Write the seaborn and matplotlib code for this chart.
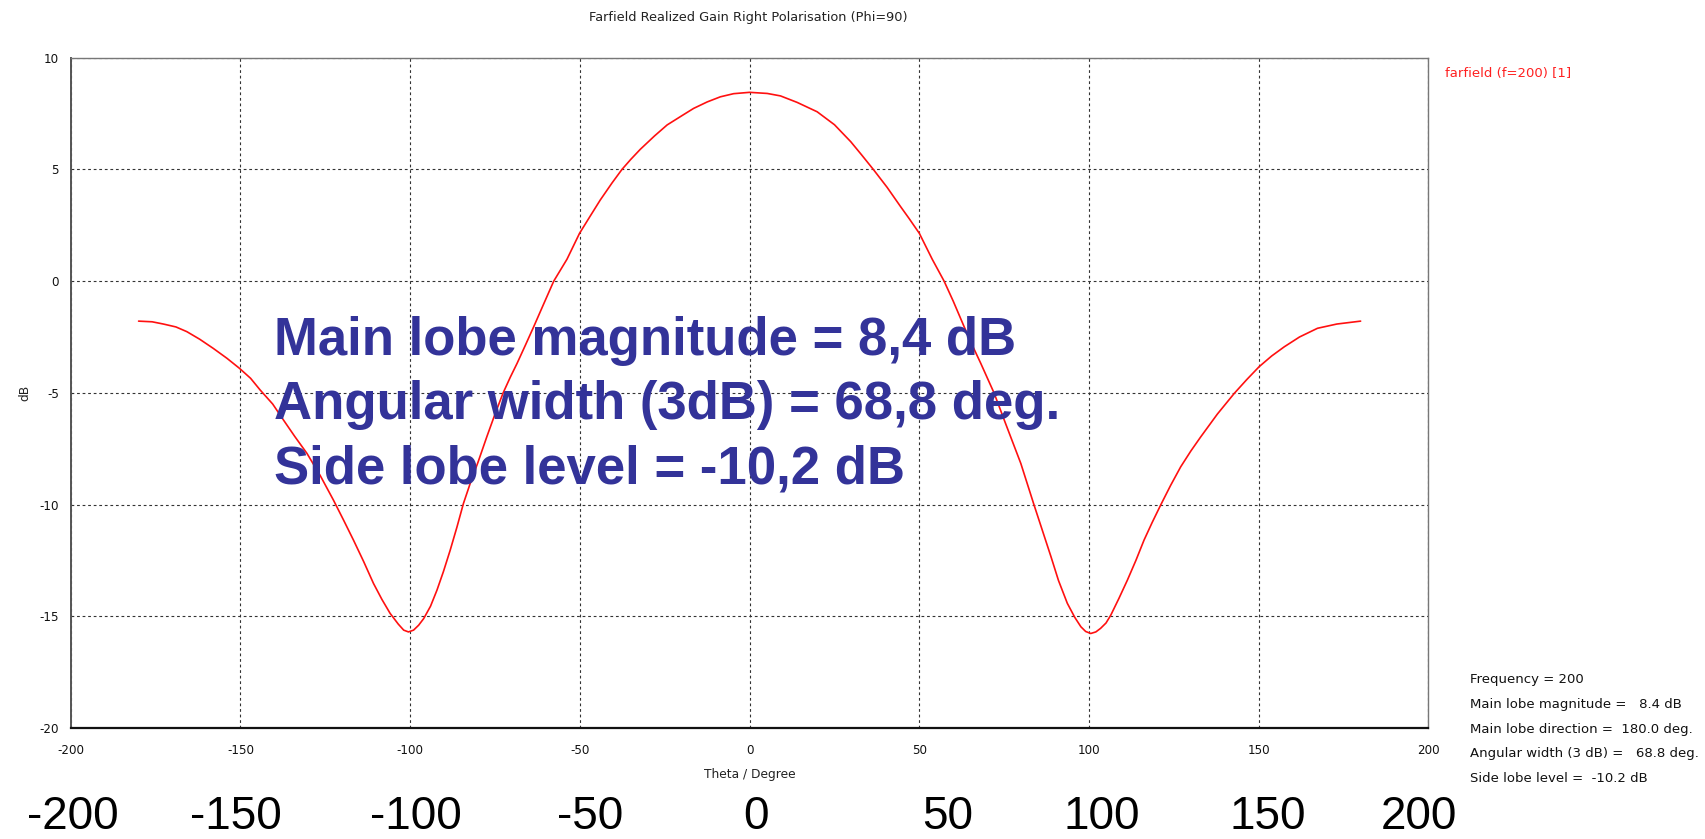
import matplotlib
matplotlib.use("Agg")
import matplotlib.pyplot as plt
import matplotlib.transforms as mtransforms
from matplotlib import font_manager
import seaborn as sns
import pandas as pd

# ---------------- data ----------------
theta = [-180.0, -176.0, -172.7, -169.0, -165.8, -162.0, -158.0, -154.0, -150.3, -147.0,
         -144.2, -140.5, -137.3, -134.0, -130.4, -126.5, -122.6, -119.6, -116.7, -113.7,
         -110.8, -108.3, -105.9, -103.5, -101.9, -100.5, -99.0, -97.5, -96.0, -94.0,
         -92.1, -90.2, -88.2, -86.2, -84.3, -82.3, -80.0, -77.4, -75.0, -72.6,
         -70.5, -68.5, -66.0, -63.6, -60.6, -57.7, -53.8, -50.1, -47.0, -44.0,
         -40.5, -37.6, -35.0, -32.2, -28.0, -24.3, -20.0, -16.5, -12.5, -8.6,
         -4.7, 0.0, 5.2, 9.1, 14.0, 19.9, 25.0, 29.8, 33.0, 36.6,
         40.5, 44.5, 47.0, 50.0, 53.8, 57.3, 60.0, 63.2, 66.0, 68.1,
         72.0, 75.4, 79.9, 83.8, 88.8, 91.0, 93.6, 95.8, 97.6, 99.0,
         100.5, 102.0, 103.4, 105.0, 106.4, 108.8, 111.3, 113.8, 116.2, 118.6,
         121.1, 124.0, 127.0, 130.0, 132.9, 137.8, 142.8, 146.5, 150.1, 153.8,
         157.5, 162.0, 167.3, 173.0, 180.0]
gain_db = [-1.79, -1.82, -1.92, -2.05, -2.26, -2.60, -3.01, -3.45, -3.90, -4.35,
           -4.87, -5.50, -6.22, -6.95, -7.71, -8.70, -9.80, -10.70, -11.59, -12.55,
           -13.53, -14.25, -14.87, -15.35, -15.62, -15.70, -15.62, -15.40, -15.10, -14.55,
           -13.83, -13.00, -12.04, -11.00, -9.95, -9.05, -8.10, -6.96, -5.95, -5.00,
           -4.30, -3.68, -2.85, -2.04, -1.00, 0.00, 0.98, 2.14, 2.90, 3.63,
           4.40, 5.00, 5.45, 5.90, 6.50, 6.99, 7.40, 7.73, 8.02, 8.25,
           8.39, 8.45, 8.40, 8.29, 8.00, 7.58, 7.00, 6.24, 5.65, 4.97,
           4.20, 3.33, 2.80, 2.14, 0.98, 0.00, -0.90, -2.04, -3.00, -3.68,
           -5.00, -6.37, -8.16, -10.02, -12.34, -13.40, -14.42, -15.05, -15.47, -15.68,
           -15.77, -15.70, -15.54, -15.30, -14.95, -14.20, -13.38, -12.50, -11.59, -10.80,
           -10.02, -9.15, -8.31, -7.60, -6.97, -5.95, -5.02, -4.40, -3.83, -3.35,
           -2.94, -2.50, -2.11, -1.92, -1.79]

x_ticks = [-200, -150, -100, -50, 0, 50, 100, 150, 200]
y_ticks = [-20, -15, -10, -5, 0, 5, 10]
big_labels = ["-200", "-150", "-100", "-50", "0", "50", "100", "150", "200"]
big_label_nudge = [0.7, -1.4, 1.8, 3.1, 1.9, 8.5, 3.8, 2.7, -2.8]

title = "Farfield Realized Gain Right Polarisation (Phi=90)"
legend_label = "farfield (f=200) [1]"
info_lines = ["Frequency = 200",
              "Main lobe magnitude =   8.4 dB",
              "Main lobe direction =  180.0 deg.",
              "Angular width (3 dB) =   68.8 deg.",
              "Side lobe level =  -10.2 dB"]
note_lines = ["Main lobe magnitude = 8,4 dB",
              "Angular width (3dB) = 68,8 deg.",
              "Side lobe level = -10,2 dB"]

df = pd.DataFrame({"Theta": theta, "Gain": gain_db})

# ---------------- style ----------------
sns.set_style("white")
plt.rcParams["font.family"] = ["DejaVu Sans"]
plt.rcParams["axes.unicode_minus"] = False

available = {f.name for f in font_manager.fontManager.ttflist}
arial_like = "Liberation Sans" if "Liberation Sans" in available else "DejaVu Sans"

W, H = 1706, 839
fig = plt.figure(figsize=(W / 100, H / 100), dpi=100)
ax = fig.add_axes([70.7 / W, 1 - 728 / H, (1428.5 - 70.7) / W, (728 - 57.7) / H])

sns.lineplot(data=df, x="Theta", y="Gain", ax=ax, color="#ff1010", lw=1.2, sort=False)

ax.set_xlim(-200, 200)
ax.set_ylim(-20, 10)
ax.set_xticks(x_ticks)
ax.set_yticks(y_ticks)
ax.tick_params(axis="both", direction="inout", length=7, width=0.9, color="#222222",
               labelsize=8.6, labelcolor="#111111")
ax.tick_params(axis="x", pad=8)
ax.tick_params(axis="y", pad=5)
ax.set_xlabel("Theta / Degree", fontsize=8.8, color="#222222", labelpad=8)
ax.set_ylabel("dB", fontsize=8.8, color="#222222", labelpad=6)

ax.grid(True, color="#333333", linestyle=(0, (2.5, 2.5)), linewidth=0.8)
for side in ["top", "right"]:
    ax.spines[side].set_color("#777777")
    ax.spines[side].set_linewidth(1.0)
ax.spines["bottom"].set_color("#111111")
ax.spines["bottom"].set_linewidth(1.6)
ax.spines["left"].set_color("#555555")
ax.spines["left"].set_linewidth(1.4)

fig.text(748 / W, 1 - 17 / H, title, ha="center", va="center", fontsize=9.3, color="#222222")
fig.text(1445 / W, 1 - 74 / H, legend_label, ha="left", va="center", fontsize=9.5, color="#ff2020")

for i, line in enumerate(info_lines):
    fig.text(1470 / W, 1 - (680 + 24.5 * i) / H, line, ha="left", va="center",
             fontsize=9.5, color="#111111")

for i, line in enumerate(note_lines):
    fig.text(274 / W, 1 - (355 + 64 * i) / H, line, ha="left", va="baseline",
             fontsize=38, fontweight="bold", family=arial_like, color="#333399")

trans = mtransforms.blended_transform_factory(ax.transData, fig.transFigure)
for lab, xv, nd in zip(big_labels, x_ticks, big_label_nudge):
    fig.text(xv + nd, 1 - 829 / H, lab, ha="center", va="baseline", fontsize=33,
             family=arial_like, color="black", transform=trans)

fig.savefig("out.png", dpi=100)
